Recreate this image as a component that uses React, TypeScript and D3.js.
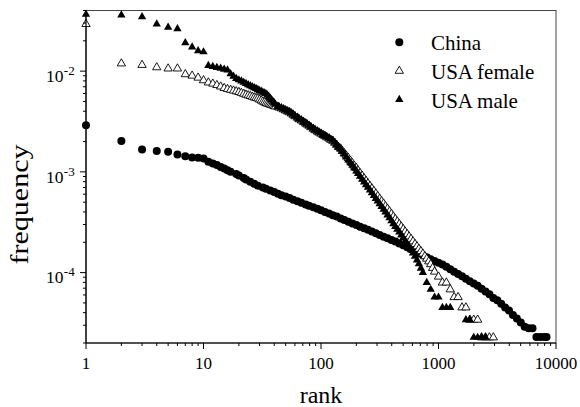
import * as d3 from 'd3'

// rank / frequency pairs
const chinaData: [number, number][] = [
  [1, 2.91e-3], [2, 2.02e-3], [3, 1.67e-3], [4, 1.61e-3], [5, 1.58e-3], [6, 1.49e-3], [7, 1.43e-3],
  [8, 1.39e-3], [9, 1.38e-3], [10, 1.36e-3], [11, 1.26e-3], [12, 1.21e-3], [13, 1.17e-3], [14, 1.12e-3],
  [15, 1.08e-3], [16, 1.04e-3], [17, 1.0e-3], [19, 9.5e-4], [20, 9.2e-4], [22, 8.7e-4], [23, 8.4e-4],
  [25, 8.0e-4], [27, 7.6e-4], [29, 7.3e-4], [32, 7.0e-4], [34, 6.8e-4], [37, 6.55e-4], [40, 6.3e-4],
  [43, 6.05e-4], [46, 5.85e-4], [50, 5.7e-4], [54, 5.5e-4], [58, 5.3e-4], [63, 5.1e-4], [68, 4.95e-4],
  [74, 4.75e-4], [79, 4.6e-4], [86, 4.45e-4], [93, 4.3e-4], [100, 4.15e-4], [108, 4.0e-4], [117, 3.85e-4],
  [126, 3.72e-4], [136, 3.6e-4], [147, 3.45e-4], [158, 3.33e-4], [171, 3.2e-4], [185, 3.08e-4],
  [200, 2.97e-4], [215, 2.86e-4], [233, 2.76e-4], [251, 2.66e-4], [271, 2.56e-4], [293, 2.46e-4],
  [316, 2.36e-4], [341, 2.27e-4], [368, 2.19e-4], [398, 2.11e-4], [429, 2.03e-4], [464, 1.95e-4],
  [501, 1.87e-4], [541, 1.79e-4], [584, 1.71e-4], [631, 1.63e-4], [681, 1.56e-4], [736, 1.49e-4],
  [794, 1.42e-4], [858, 1.36e-4], [926, 1.3e-4], [1000, 1.25e-4], [1080, 1.2e-4], [1166, 1.14e-4],
  [1259, 1.08e-4], [1359, 1.02e-4], [1468, 9.7e-5], [1585, 9.2e-5], [1711, 8.7e-5], [1848, 8.2e-5],
  [1995, 7.8e-5], [2154, 7.4e-5], [2326, 6.9e-5], [2512, 6.5e-5], [2712, 6.1e-5], [2929, 5.6e-5],
  [3162, 5.3e-5], [3415, 4.9e-5], [3687, 4.5e-5], [3981, 4.2e-5], [4299, 3.8e-5], [4642, 3.5e-5],
  [5012, 3.2e-5], [5412, 2.9e-5], [5843, 2.8e-5], [6310, 2.8e-5], [6813, 2.3e-5], [7356, 2.3e-5],
  [7943, 2.3e-5], [8300, 2.3e-5],
]

const femaleData: [number, number][] = [
  [1, 0.0293], [2, 0.0119], [3, 0.0115], [4, 0.0109], [5, 0.0106], [6, 0.0106], [7, 0.0093], [8, 0.009],
  [9, 0.0086], [10, 0.0081], [11, 0.0077], [12, 0.0075], [13, 0.00726], [14, 0.00702], [15, 0.00678],
  [16, 0.00663], [17, 0.00651], [18, 0.0064], [19, 0.00629], [20, 0.00619], [21, 0.00607], [22, 0.00595],
  [23, 0.00583], [24, 0.00574], [25, 0.00565], [26, 0.00556], [27, 0.00548], [28, 0.00541], [29, 0.00534],
  [30, 0.00521], [31, 0.0051], [32, 0.00498], [33, 0.0049], [34, 0.00481], [35, 0.00475], [36, 0.0047],
  [37, 0.00465], [38, 0.0046], [39, 0.00455], [40, 0.00449], [41, 0.00445], [43, 0.00442], [44, 0.00434],
  [46, 0.00426], [48, 0.00416], [50, 0.00406], [52, 0.00397], [54, 0.00389], [56, 0.00379], [58, 0.00368],
  [60, 0.00356], [63, 0.00344], [65, 0.00333], [68, 0.00323], [71, 0.00312], [74, 0.00302], [76, 0.00295],
  [79, 0.00287], [82, 0.00277], [86, 0.00267], [89, 0.00259], [93, 0.00251], [96, 0.00245], [100, 0.00239],
  [104, 0.00232], [108, 0.00226], [112, 0.0022], [117, 0.00214], [121, 0.00208], [126, 0.00203],
  [131, 0.00194], [136, 0.00185], [141, 0.00176], [147, 0.0017], [152, 0.00161], [158, 0.00153],
  [164, 0.00145], [171, 0.00137], [178, 0.00129], [185, 0.00122], [192, 0.00115], [200, 0.00109],
  [207, 0.00103], [215, 9.71e-4], [224, 9.14e-4], [233, 8.6e-4], [242, 8.12e-4], [251, 7.67e-4],
  [261, 7.24e-4], [271, 6.84e-4], [282, 6.45e-4], [293, 6.08e-4], [304, 5.74e-4], [316, 5.41e-4],
  [328, 5.11e-4], [341, 4.83e-4], [354, 4.56e-4], [368, 4.3e-4], [383, 4.05e-4], [398, 3.82e-4],
  [413, 3.6e-4], [429, 3.4e-4], [446, 3.21e-4], [464, 3.03e-4], [482, 2.86e-4], [501, 2.7e-4],
  [520, 2.55e-4], [541, 2.41e-4], [562, 2.28e-4], [584, 2.16e-4], [607, 2.04e-4], [631, 1.92e-4],
  [656, 1.82e-4], [681, 1.72e-4], [708, 1.63e-4], [736, 1.54e-4], [765, 1.45e-4], [794, 1.37e-4],
  [826, 1.29e-4], [858, 1.21e-4], [891, 1.11e-4], [926, 1.02e-4], [1000, 9.1e-5], [1080, 7.95e-5],
  [1166, 7.95e-5], [1259, 6.8e-5], [1359, 5.7e-5], [1468, 5.7e-5], [1585, 4.5e-5], [1711, 4.5e-5],
  [1848, 3.4e-5], [1995, 3.4e-5], [2154, 3.4e-5], [2326, 2.27e-5], [2512, 2.27e-5], [2712, 2.27e-5],
  [2929, 2.27e-5],
]

const maleData: [number, number][] = [
  [1, 0.0366], [2, 0.036], [3, 0.0346], [4, 0.0293], [5, 0.0272], [6, 0.0263], [7, 0.0191], [8, 0.0173],
  [9, 0.0159], [10, 0.0155], [11, 0.01134], [12, 0.01108], [13, 0.01083], [14, 0.01064], [15, 0.01042],
  [16, 0.01023], [17, 0.0094], [18, 0.0089], [19, 0.00842], [20, 0.00818], [21, 0.00795], [22, 0.00772],
  [23, 0.00751], [24, 0.00732], [25, 0.00714], [26, 0.00699], [27, 0.00684], [28, 0.0067], [29, 0.00655],
  [30, 0.0064], [31, 0.0063], [32, 0.00617], [33, 0.00607], [34, 0.00597], [35, 0.0058], [36, 0.0056],
  [37, 0.00538], [38, 0.0052], [39, 0.005], [40, 0.00486], [41, 0.00467], [43, 0.00448], [44, 0.00439],
  [46, 0.00431], [48, 0.00421], [50, 0.00411], [52, 0.00402], [54, 0.00394], [56, 0.00383], [58, 0.00372],
  [60, 0.0036], [63, 0.00348], [65, 0.00337], [68, 0.00327], [71, 0.00316], [74, 0.00306], [76, 0.00298],
  [79, 0.0029], [82, 0.0028], [86, 0.0027], [89, 0.00262], [93, 0.00254], [96, 0.00248], [100, 0.00242],
  [104, 0.00235], [108, 0.00229], [112, 0.00223], [117, 0.00217], [121, 0.00211], [126, 0.00206],
  [131, 0.00196], [136, 0.00187], [141, 0.00177], [147, 0.00168], [152, 0.00159], [158, 0.0015],
  [164, 0.0014], [171, 0.00131], [178, 0.00123], [185, 0.00116], [192, 0.00109], [200, 0.00102],
  [207, 9.6e-4], [215, 9.04e-4], [224, 8.45e-4], [233, 7.9e-4], [242, 7.45e-4], [251, 7.02e-4],
  [261, 6.59e-4], [271, 6.19e-4], [282, 5.8e-4], [293, 5.44e-4], [304, 5.12e-4], [316, 4.81e-4],
  [328, 4.52e-4], [341, 4.24e-4], [354, 3.98e-4], [368, 3.73e-4], [383, 3.49e-4], [398, 3.26e-4],
  [413, 3.05e-4], [429, 2.86e-4], [446, 2.68e-4], [464, 2.52e-4], [482, 2.36e-4], [501, 2.21e-4],
  [520, 2.06e-4], [541, 1.92e-4], [562, 1.8e-4], [584, 1.68e-4], [607, 1.56e-4], [631, 1.45e-4],
  [656, 1.33e-4], [681, 1.22e-4], [708, 1.1e-4], [736, 1.0e-4], [794, 7.95e-5], [858, 6.8e-5],
  [926, 5.7e-5], [1000, 5.7e-5], [1080, 4.5e-5], [1166, 4.5e-5], [1259, 4.5e-5], [1711, 3.4e-5],
  [1848, 3.4e-5], [1995, 2.27e-5], [2154, 2.27e-5], [2326, 2.27e-5], [2512, 2.27e-5],
]

const xTickValues = [1, 10, 100, 1000, 10000]
const yTickExponents = [-2, -3, -4]
const legendLabels = ['China', 'USA female', 'USA male']

const W = 580
const H = 407
const margin = { top: 10.5, right: 24, bottom: 64, left: 86 }
const FONT = "'Liberation Serif', 'Times New Roman', Times, 'DejaVu Serif', serif"

export default function App() {
  const x = d3.scaleLog().domain([1, 10000]).range([margin.left, W - margin.right])
  const y = d3.scaleLog().domain([2e-5, 0.04]).range([H - margin.bottom, margin.top])
  const x0 = margin.left
  const y0 = H - margin.bottom

  // minor ticks: 2..9 times each power of ten inside the domain
  const xMinor: number[] = []
  for (let e = 0; e < 4; e++) for (let k = 2; k <= 9; k++) xMinor.push(k * Math.pow(10, e))
  const yMinor: number[] = []
  for (let e = -5; e <= -2; e++) for (let k = 2; k <= 9; k++) {
    const v = k * Math.pow(10, e)
    if (v >= 2e-5 && v <= 0.04) yMinor.push(v)
  }

  const triPath = d3.symbol(d3.symbolTriangle, 30)() as string
  const dot = 4
  const txt = { fontFamily: FONT, fill: '#000' }

  return (
    <svg width={W} height={H} style={{ position: 'absolute', left: 0, top: 0, background: '#fff', fontFamily: FONT }}>
      <rect x={0} y={0} width={W} height={H} fill="#fff" />

      {/* frame */}
      <rect x={x0} y={margin.top} width={W - margin.right - x0} height={y0 - margin.top}
        fill="none" stroke="#444" strokeWidth={1} />

      {/* China */}
      <g>
        {chinaData.map(([r, f], i) => (
          <circle key={i} cx={x(r)} cy={y(f)} r={dot} fill="#000" />
        ))}
      </g>
      {/* USA female */}
      <g>
        {femaleData.map(([r, f], i) => (
          <path key={i} d={triPath} transform={`translate(${x(r)},${y(f)})`}
            fill="#fff" stroke="#000" strokeWidth={0.9} />
        ))}
      </g>
      {/* USA male */}
      <g>
        {maleData.map(([r, f], i) => (
          <path key={i} d={triPath} transform={`translate(${x(r)},${y(f)})`} fill="#000" />
        ))}
      </g>

      {/* axes */}
      <line x1={x0} x2={W - margin.right} y1={y0} y2={y0} stroke="#000" strokeWidth={1.2} />
      <line x1={x0} x2={x0} y1={margin.top} y2={y0} stroke="#000" strokeWidth={1.2} />
      {xMinor.map(v => (
        <line key={'xm' + v} x1={x(v)} x2={x(v)} y1={y0} y2={y0 + 3} stroke="#000" strokeWidth={1} />
      ))}
      {xTickValues.map(v => (
        <g key={'xt' + v}>
          <line x1={x(v)} x2={x(v)} y1={y0} y2={y0 + 6} stroke="#000" strokeWidth={1} />
          <text x={x(v)} y={368.5} fontSize={17} textAnchor="middle" style={txt}>{v}</text>
        </g>
      ))}
      {yMinor.map(v => (
        <line key={'ym' + v} x1={x0 - 3} x2={x0} y1={y(v)} y2={y(v)} stroke="#000" strokeWidth={1} />
      ))}
      {yTickExponents.map(e => {
        const py = y(Math.pow(10, e))
        return (
          <g key={'yt' + e}>
            <line x1={x0 - 6} x2={x0} y1={py} y2={py} stroke="#000" strokeWidth={1} />
            <text x={63.5} y={py + 10.7} fontSize={17.5} textAnchor="end" style={txt}>10</text>
            <text x={63.8} y={py + 3.8} fontSize={13} style={txt}>{'-' + Math.abs(e)}</text>
          </g>
        )
      })}

      {/* axis titles */}
      <text x={(x(1) + x(10000)) / 2} y={402.5} fontSize={24} textAnchor="middle" style={txt}>rank</text>
      <text transform="translate(28.3,204.5) rotate(-90)" fontSize={25} textAnchor="middle"
        textLength={120} lengthAdjust="spacingAndGlyphs" style={txt}>frequency</text>

      {/* legend */}
      {legendLabels.map((label, i) => {
        const cy = 42.3 + i * 28.6
        return (
          <g key={label}>
            {i === 0 && <circle cx={399.3} cy={cy} r={dot} fill="#000" />}
            {i === 1 && <path d={triPath} transform={`translate(399.3,${cy})`} fill="#fff" stroke="#000" strokeWidth={0.9} />}
            {i === 2 && <path d={triPath} transform={`translate(399.3,${cy})`} fill="#000" />}
            <text x={431} y={cy + 8} fontSize={21} style={txt}>{label}</text>
          </g>
        )
      })}
    </svg>
  )
}
